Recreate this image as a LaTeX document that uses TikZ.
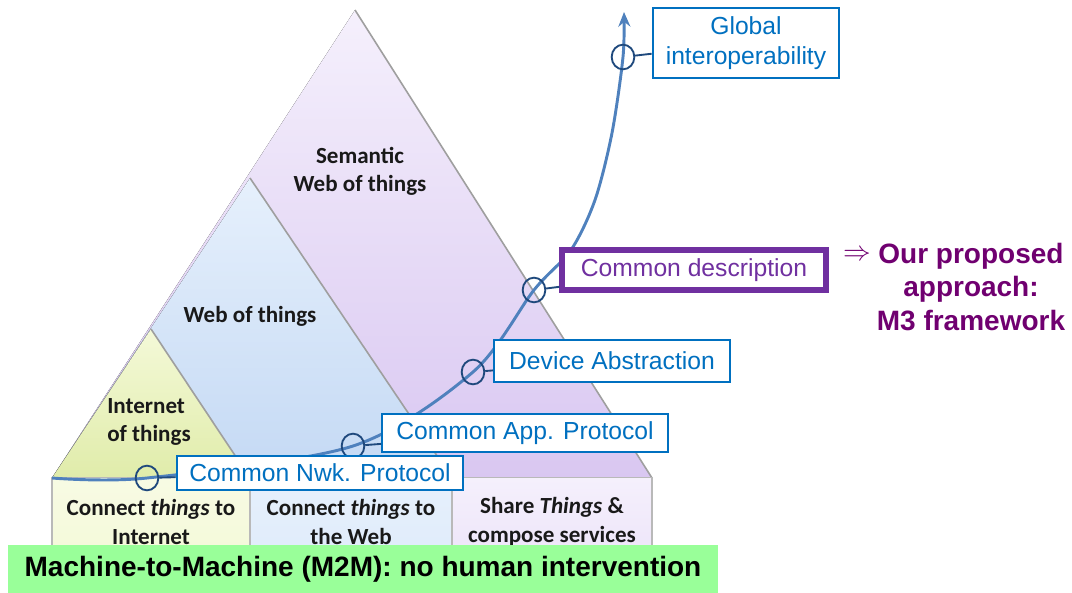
\documentclass[tikz,border=0pt]{standalone}
\usepackage{fontspec}
\usepackage{xcolor}
\usepackage{tikz}
\usetikzlibrary{arrows.meta, positioning, shapes.geometric}
\newfontfamily\arialfont{Liberation Sans}
\newfontfamily\calibfont{Carlito}

\definecolor{semtop}{HTML}{F5F0FC}
\definecolor{sembot}{HTML}{D9C7F1}
\definecolor{webtop}{HTML}{E6F0FC}
\definecolor{webbot}{HTML}{C4D9F4}
\definecolor{iottop}{HTML}{F4F9D8}
\definecolor{iotbot}{HTML}{E0ECAA}
\definecolor{curveblue}{HTML}{4F81BD}
\definecolor{ringblue}{HTML}{1F497D}
\definecolor{labelblue}{HTML}{0070C0}
\definecolor{descpurple}{HTML}{7030A0}
\definecolor{mthree}{HTML}{700070}
\definecolor{mgreen}{HTML}{99FF99}

\begin{document}
\begin{tikzpicture}[x=0.75pt, y=-0.75pt,
        layer/.style={font=\calibfont\bfseries\fontsize{17.3}{21}\selectfont, align=center, text=black!90},
        cell/.style={rectangle, draw=gray!55, line width=0.8pt, minimum height=66.75pt, inner sep=0pt,
            font=\calibfont\bfseries\fontsize{17.3}{21.75}\selectfont, text=black!90, align=center},
        ring/.style={ellipse, draw=ringblue, line width=1.4pt, minimum width=17pt, minimum height=18.5pt, inner sep=0pt},
        stage/.style={rectangle, draw=labelblue, line width=1.5pt, fill=white, text=labelblue, inner sep=0pt,
            font=\arialfont\fontsize{18.5}{22.5}\selectfont, align=center},
        link/.style={draw=ringblue, line width=1.4pt},
        edge/.style={draw=gray!75, line width=1.2pt},
        curve/.style={-{Stealth[length=11pt, width=9pt]}, draw=curveblue, line width=2.2pt}
    ]
            \useasboundingbox (0,0) rectangle (1072,593);

            % Pyramid
            \fill[top color=semtop, bottom color=sembot] (52,478) -- (355,10) -- (652,478) -- cycle;
            \draw[edge] (355,10) -- (652,478);
            \fill[top color=webtop, bottom color=webbot] (52,478) -- (250,178) -- (452,478) -- cycle;
            \draw[edge] (250,178) -- (452,478);
            \fill[top color=iottop, bottom color=iotbot] (52,478) -- (151,329) -- (250,478) -- cycle;
            \draw[edge] (151,329) -- (250,478);

            \node[layer] (sem) at (360,171) {Semantic\\Web of things};
            \node[layer] (web) at (250,316) {Web of things};
            \node[layer, align=left] (iot) at (149,422) {Internet\\of things};

            % Bottom row
            \node[cell, minimum width=148.5pt, top color=iottop!70, bottom color=iottop] (cint) at (151,522) {Connect \textit{things} to\\Internet};
            \node[cell, minimum width=151.5pt, top color=webtop, bottom color=webtop!80!webbot] (cweb) at (351,522) {Connect \textit{things} to\\the Web};
            \node[cell, minimum width=150pt, top color=semtop, bottom color=semtop!70!sembot] (cshare) at (552,522) {Share \textit{Things} \&\\compose services};

            \node[fill=mgreen, minimum width=532.5pt, minimum height=36pt, inner sep=0pt,
                font=\arialfont\bfseries\fontsize{21}{25}\selectfont] (m2m) at (363,569) {Machine-to-Machine (M2M): no human intervention};

            % Evolution curve
            \coordinate (start) at (52,478);
            \coordinate (pn) at (147,478);
            \coordinate (pa) at (353,446);
            \coordinate (pd) at (473,372);
            \coordinate (pc) at (534,290);
            \coordinate (pm1) at (571,250);
            \coordinate (pm2) at (595,200);
            \coordinate (pm3) at (612,133);
            \coordinate (pg) at (623,57);
            \coordinate (tip) at (624,12);
            \draw[curve] plot[smooth, tension=0.5] coordinates {(start) (pn) (pa) (pd) (pc) (pm1) (pm2) (pm3) (pg) (tip)};

            \node[ring] (rnwk) at (pn) {};
            \node[ring] (rapp) at (pa) {};
            \node[ring] (rdev) at (pd) {};
            \node[ring] (rdesc) at (pc) {};
            \node[ring] (rglob) at (pg) {};

            % Stages
            \node[stage, minimum width=140pt, minimum height=52.5pt] (glob) at (746,43) {Global\\interoperability};
            \node[stage, draw=descpurple, line width=4pt, text=descpurple, minimum width=198pt, minimum height=30pt] (desc) at (694,270) {Common description};
            \node[stage, minimum width=177pt, minimum height=32pt] (dev) at (612,361) {Device Abstraction};
            \node[stage, minimum width=214.5pt, minimum height=28.5pt] (app) at (525,433) {Common App. Protocol};
            \node[stage, minimum width=215pt, minimum height=25.5pt] (nwk) at (320,473) {Common Nwk. Protocol};

            % Relations
            \draw[link] (rglob) -- (glob);
            \draw[link] (rdesc) -- (desc);
            \draw[link] (rdev) -- (dev);
            \draw[link] (rapp) -- (app);
            \draw[link] (rnwk) -- (nwk);

            \node[text=mthree, align=center, font=\arialfont\bfseries\fontsize{21}{25}\selectfont] (m3) at (971,287) {Our proposed\\approach:\\M3 framework};
            \node[text=mthree, font=\fontsize{20}{24}\selectfont] (imp) at (857,255) {$\Rightarrow$};
    \end{tikzpicture}
\end{document}
